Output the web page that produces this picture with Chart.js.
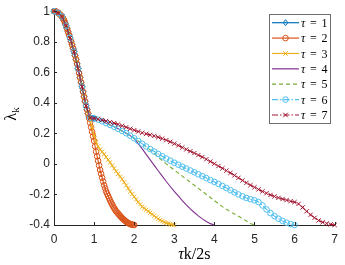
<!DOCTYPE html>
<html>
<head>
<meta charset="utf-8">
<script src="https://cdn.jsdelivr.net/npm/chart.js@4"></script>
<style>
    html, body { margin: 0; padding: 0; background: #fff; }
    #grafico { display: block; }
</style>
</head>
<body>
<canvas id="grafico" width="345" height="265"></canvas>
<script>
var taus = [1, 2, 3, 4, 5, 6, 7];
var passos = [0.025, 0.025, 0.05, 0.1, 0.1, 0.1, 0.1];
var xTicks = [0, 1, 2, 3, 4, 5, 6, 7];
var yTicks = [-0.4, -0.2, 0, 0.2, 0.4, 0.6, 0.8, 1];

var lambda1 = [1.0, 0.999, 0.998, 0.995, 0.99, 0.985, 0.978, 0.972, 0.965,
    0.953, 0.94, 0.923, 0.905, 0.885, 0.865, 0.845, 0.825, 0.803, 0.78, 0.758, 0.735,
    0.71, 0.685, 0.655, 0.625, 0.595, 0.565, 0.535, 0.505, 0.472, 0.44, 0.41, 0.38,
    0.355, 0.33, 0.31, 0.302, 0.30, 0.30, 0.299, 0.298];

var lambda2 = [1.0, 0.999, 0.998, 0.995, 0.99, 0.985, 0.978, 0.972, 0.965,
    0.953, 0.94, 0.923, 0.905, 0.885, 0.865, 0.845, 0.825, 0.803, 0.78, 0.758, 0.735,
    0.71, 0.685, 0.655, 0.625, 0.595, 0.565, 0.535, 0.505, 0.472, 0.44, 0.41, 0.38,
    0.355, 0.33,
    0.30, 0.27, 0.24, 0.21, 0.18, 0.15, 0.115, 0.08, 0.05, 0.02,
    -0.01, -0.04, -0.065, -0.09, -0.115, -0.14, -0.16, -0.18, -0.195, -0.21,
    -0.225, -0.24, -0.253, -0.265, -0.278, -0.29, -0.30, -0.31, -0.318, -0.325,
    -0.333, -0.34, -0.348, -0.355, -0.361, -0.367, -0.373, -0.378, -0.383, -0.387,
    -0.391, -0.394, -0.396, -0.398, -0.399, -0.40];

var lambda3 = [1.0, 0.998, 0.99, 0.978, 0.965, 0.94, 0.905, 0.865, 0.825, 0.78, 0.735,
    0.685, 0.625, 0.565, 0.505, 0.44, 0.38, 0.33,
    0.29, 0.24, 0.19, 0.145, 0.115, 0.095, 0.08, 0.063, 0.045, 0.027,
    0.01, -0.01, -0.03, -0.048, -0.065, -0.083, -0.10, -0.12, -0.14, -0.16,
    -0.18, -0.198, -0.215, -0.232, -0.25, -0.265, -0.28, -0.29, -0.30, -0.31,
    -0.32, -0.33, -0.34, -0.35, -0.36, -0.368, -0.375, -0.381, -0.387, -0.391,
    -0.395, -0.398, -0.40];

var lambda4 = [1.0, 0.99, 0.965, 0.905, 0.825, 0.735, 0.625, 0.505, 0.38, 0.302,
    0.298, 0.29, 0.279, 0.267, 0.255, 0.243, 0.23, 0.216, 0.201, 0.185, 0.168,
    0.133, 0.098, 0.062, 0.026, -0.01, -0.045, -0.08, -0.115, -0.148, -0.18,
    -0.21, -0.24, -0.268, -0.294, -0.318, -0.34, -0.36, -0.377, -0.391, -0.40];

var lambda5 = [1.0, 0.99, 0.965, 0.905, 0.825, 0.735, 0.625, 0.505, 0.38, 0.302,
    0.298, 0.29, 0.279, 0.267, 0.255, 0.243, 0.23, 0.216, 0.201, 0.185, 0.168,
    0.15, 0.132, 0.112, 0.09, 0.068, 0.045, 0.022, 0.0, -0.02, -0.04,
    -0.06, -0.08, -0.10, -0.12, -0.14, -0.16, -0.18, -0.20, -0.22, -0.24,
    -0.26, -0.28, -0.297, -0.313, -0.328, -0.343, -0.358, -0.374, -0.39, -0.40];

var lambda6 = [1.0, 0.99, 0.965, 0.905, 0.825, 0.735, 0.625, 0.505, 0.38, 0.302,
    0.298, 0.29, 0.279, 0.267, 0.255, 0.243, 0.23, 0.216, 0.201, 0.185, 0.168,
    0.15, 0.132, 0.114, 0.097, 0.081, 0.065, 0.05, 0.035, 0.021, 0.008,
    -0.005, -0.018, -0.03, -0.043, -0.055, -0.068, -0.08, -0.093, -0.106, -0.118,
    -0.131, -0.144, -0.158, -0.172, -0.186, -0.2, -0.212, -0.223, -0.231, -0.238,
    -0.25, -0.272, -0.298, -0.322, -0.342, -0.359, -0.373, -0.385, -0.394, -0.40];

var lambda7 = [1.0, 0.99, 0.965, 0.905, 0.825, 0.735, 0.625, 0.505, 0.38, 0.302,
    0.298, 0.293, 0.287, 0.281, 0.274, 0.267, 0.259, 0.25, 0.24, 0.23,
    0.221, 0.212, 0.204, 0.197, 0.19, 0.183, 0.175, 0.166, 0.156, 0.145,
    0.133, 0.121, 0.108, 0.095, 0.083, 0.071, 0.058, 0.045, 0.031, 0.016,
    0.001, -0.014, -0.029, -0.044, -0.059, -0.075, -0.091, -0.108, -0.124, -0.139,
    -0.153, -0.167, -0.18, -0.192, -0.203, -0.213, -0.222, -0.23, -0.237, -0.244,
    -0.25, -0.262, -0.285, -0.31, -0.333, -0.353, -0.37, -0.382, -0.39, -0.396, -0.40];

var series = [lambda1, lambda2, lambda3, lambda4, lambda5, lambda6, lambda7];
var cores = ['#0072BD', '#D95319', '#EDB120', '#7E2F8E', '#77AC30', '#4DBEEE', '#A2142F'];
var marcadores = ['rectRot', 'circle', 'crossRot', false, false, 'circle', 'crossRot'];
var tracos = [[], [], [], [], [4, 3], [6, 2, 1.5, 2], [6, 2, 1.5, 2]];
var raios = [3, 2.8, 3, 0, 0, 2.8, 3];

var corEixo = '#262626';
var fonteEixo = '"Liberation Sans", Arial, sans-serif';
var fonteSerif = '"Liberation Serif", "Times New Roman", serif';

function pontos(valores, passo) {
    return valores.map(function (v, i) { return { x: Math.round(i * passo * 1000) / 1000, y: v }; });
}

function desenharMarcador(ctx, estilo, r, x, y) {
    if (!estilo) return;
    ctx.beginPath();
    if (estilo === 'circle') {
        ctx.arc(x, y, r, 0, Math.PI * 2);
    } else if (estilo === 'rectRot') {
        ctx.moveTo(x, y - r); ctx.lineTo(x + r * 0.75, y); ctx.lineTo(x, y + r); ctx.lineTo(x - r * 0.75, y); ctx.closePath();
    } else if (estilo === 'crossRot') {
        var d = r * 0.75;
        ctx.moveTo(x - d, y - d); ctx.lineTo(x + d, y + d);
        ctx.moveTo(x + d, y - d); ctx.lineTo(x - d, y + d);
    }
    ctx.stroke();
}

var extras = {
    id: 'extras',
    afterDraw: function (chart) {
        var ctx = chart.ctx;
        var xs = chart.scales.x, ys = chart.scales.y;
        var area = chart.chartArea;

        // ticks para dentro, estilo matlab
        ctx.save();
        ctx.strokeStyle = corEixo;
        ctx.lineWidth = 1;
        ctx.beginPath();
        xTicks.forEach(function (t) {
            var px = Math.round(xs.getPixelForValue(t)) + 0.5;
            ctx.moveTo(px, area.bottom); ctx.lineTo(px, area.bottom - 3);
        });
        yTicks.forEach(function (t) {
            var py = Math.round(ys.getPixelForValue(t)) + 0.5;
            ctx.moveTo(area.left, py); ctx.lineTo(area.left + 3, py);
        });
        ctx.stroke();
        ctx.restore();

        // titulo do eixo x
        ctx.save();
        ctx.fillStyle = '#000';
        ctx.textBaseline = 'alphabetic';
        var cx = (area.left + area.right) / 2;
        ctx.font = 'italic 16px ' + fonteSerif;
        var wTau = ctx.measureText('τ').width;
        ctx.font = '16px ' + fonteSerif;
        var wResto = ctx.measureText('k/2s').width;
        var x0 = cx - (wTau + wResto) / 2;
        ctx.font = 'italic 16px ' + fonteSerif;
        ctx.fillText('τ', x0, 259);
        ctx.font = '16px ' + fonteSerif;
        ctx.fillText('k/2s', x0 + wTau, 259);
        ctx.restore();

        // titulo do eixo y: lambda_k
        ctx.save();
        ctx.fillStyle = '#000';
        ctx.translate(11, 114);
        ctx.rotate(-Math.PI / 2);
        ctx.font = '16px ' + fonteSerif;
        var wL = ctx.measureText('λ').width;
        ctx.font = '11px ' + fonteSerif;
        var wK = ctx.measureText('k').width;
        ctx.font = '16px ' + fonteSerif;
        ctx.fillText('λ', -(wL + wK) / 2, 5);
        ctx.font = '11px ' + fonteSerif;
        ctx.fillText('k', -(wL + wK) / 2 + wL, 8);
        ctx.restore();

        // legenda
        ctx.save();
        ctx.fillStyle = '#fff';
        ctx.fillRect(269.5, 14.5, 61, 109);
        ctx.strokeStyle = '#6e6e6e';
        ctx.lineWidth = 1;
        ctx.strokeRect(269.5, 14.5, 61, 109);
        taus.forEach(function (tau, i) {
            var y = 22.7 + i * 15.38;
            ctx.strokeStyle = cores[i];
            ctx.lineWidth = 1.2;
            ctx.setLineDash(tracos[i]);
            ctx.beginPath();
            ctx.moveTo(272, y); ctx.lineTo(299, y);
            ctx.stroke();
            ctx.setLineDash([]);
            ctx.lineWidth = 1;
            desenharMarcador(ctx, marcadores[i], raios[i], 285.5, y);
            ctx.fillStyle = '#000';
            ctx.font = 'italic 12px ' + fonteSerif;
            ctx.fillText('τ', 301, y + 4.2);
            ctx.font = '12px ' + fonteSerif;
            ctx.fillText('=', 310, y + 4.2);
            ctx.fillText(String(tau), 321.5, y + 4.2);
        });
        ctx.restore();
    }
};

var datasets = series.map(function (valores, i) {
    return {
        label: 'τ = ' + taus[i],
        data: pontos(valores, passos[i]),
        borderColor: cores[i],
        borderWidth: 1.1,
        borderDash: tracos[i],
        backgroundColor: 'rgba(0,0,0,0)',
        pointStyle: marcadores[i] || 'circle',
        pointRadius: raios[i],
        pointBorderColor: cores[i],
        pointBackgroundColor: 'rgba(0,0,0,0)',
        pointBorderWidth: 1,
        tension: 0,
        fill: false,
        clip: false,
        order: taus.length - i
    };
});

new Chart(document.getElementById('grafico').getContext('2d'), {
    type: 'line',
    data: { datasets: datasets },
    options: {
        responsive: false,
        animation: false,
        events: [],
        layout: { padding: { top: 8, right: 7, left: 0, bottom: 0 } },
        plugins: { legend: { display: false }, tooltip: { enabled: false } },
        scales: {
            x: {
                type: 'linear', min: 0, max: 7,
                afterFit: function (s) { s.height = 40; },
                afterBuildTicks: function (s) { s.ticks = xTicks.map(function (v) { return { value: v }; }); },
                grid: { drawOnChartArea: false, drawTicks: false },
                border: { color: corEixo, width: 1 },
                ticks: { color: corEixo, padding: 7, font: { family: fonteEixo, size: 12 } }
            },
            y: {
                type: 'linear', min: -0.4, max: 1,
                afterFit: function (s) { s.width = 54; },
                afterBuildTicks: function (s) { s.ticks = yTicks.map(function (v) { return { value: v }; }); },
                grid: { drawOnChartArea: false, drawTicks: false },
                border: { color: corEixo, width: 1 },
                ticks: {
                    color: corEixo, padding: 4, font: { family: fonteEixo, size: 12 },
                    callback: function (v) { return String(Math.round(v * 10) / 10); }
                }
            }
        }
    },
    plugins: [extras]
});
</script>
</body>
</html>
